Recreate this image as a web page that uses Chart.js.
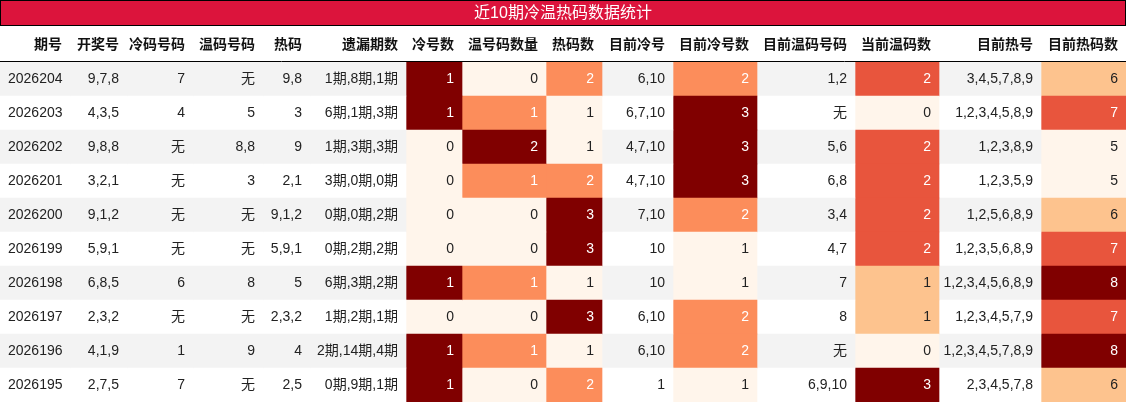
<!DOCTYPE html>
<html><head><meta charset="utf-8">
<script src="https://cdn.jsdelivr.net/npm/chart.js@4"></script>
<style>html,body{margin:0;padding:0;background:#fff}#wrap{width:1126px;height:403px}</style>
</head><body><div id="wrap"><canvas id="c"></canvas></div>
<script>
// data
const title = '近10期冷温热码数据统计';
const headers = ['期号','开奖号','冷码号码','温码号码','热码','遗漏期数','冷号数','温号码数量','热码数','目前冷号','目前冷号数','目前温码号码','当前温码数','目前热号','目前热码数'];
const issues = ['2026204','2026203','2026202','2026201','2026200','2026199','2026198','2026197','2026196','2026195'];
const draws = ['9,7,8','4,3,5','9,8,8','3,2,1','9,1,2','5,9,1','6,8,5','2,3,2','4,1,9','2,7,5'];
const coldNums = ['7','4','无','无','无','无','6','无','1','7'];
const warmNums = ['无','5','8,8','3','无','无','8','无','9','无'];
const hotNums = ['9,8','3','9','2,1','9,1,2','5,9,1','5','2,3,2','4','2,5'];
const missing = ['1期,8期,1期','6期,1期,3期','1期,3期,3期','3期,0期,0期','0期,0期,2期','0期,2期,2期','6期,3期,2期','1期,2期,1期','2期,14期,4期','0期,9期,1期'];
const coldCount = [1,1,0,0,0,0,1,0,1,1];
const warmCount = [0,1,2,1,0,0,1,0,1,0];
const hotCount = [2,1,1,2,3,3,1,3,1,2];
const curCold = ['6,10','6,7,10','4,7,10','4,7,10','7,10','10','10','6,10','6,10','1'];
const curColdCount = [2,3,3,3,2,1,1,2,2,1];
const curWarm = ['1,2','无','5,6','6,8','3,4','4,7','7','8','无','6,9,10'];
const curWarmCount = [2,0,2,2,2,2,1,1,0,3];
const curHot = ['3,4,5,7,8,9','1,2,3,4,5,8,9','1,2,3,8,9','1,2,3,5,9','1,2,5,6,8,9','1,2,3,5,6,8,9','1,2,3,4,5,6,8,9','1,2,3,4,5,7,9','1,2,3,4,5,7,8,9','2,3,4,5,7,8'];
const curHotCount = [6,7,5,5,6,7,8,7,8,6];

const columns = [issues,draws,coldNums,warmNums,hotNums,missing,coldCount,warmCount,hotCount,curCold,curColdCount,curWarm,curWarmCount,curHot,curHotCount];
const colEdges = [0,70,127,193,263,310,406,462,546,602,673,757,855,939,1041,1126];

const ramp = ['#fff5eb','#fdc38e','#fc8d5b','#e8553d','#800000'];
function cellColor(vals, v) {
  const mn = Math.min(...vals), mx = Math.max(...vals);
  const t = mx === mn ? 0 : (v - mn) / (mx - mn);
  return ramp[Math.round(t * 4)];
}
const isNum = col => typeof col[0] === 'number';

const datasets = columns.map((col, ci) => ({
  data: col.map(() => [colEdges[ci], colEdges[ci + 1]]),
  backgroundColor: col.map((v, ri) => isNum(col) ? cellColor(col, v) : (ri % 2 === 0 ? '#f3f3f3' : '#ffffff')),
  borderWidth: 0, grouped: false, barPercentage: 1, categoryPercentage: 1
}));

const tablePlugin = {
  id: 'tableText',
  afterDatasetsDraw(chart) {
    const ctx = chart.ctx, xs = chart.scales.x, ys = chart.scales.y;
    ctx.save();
    // title bar
    ctx.fillStyle = '#dc143c';
    ctx.fillRect(1, 1, 1124, 24);
    ctx.strokeStyle = '#000'; ctx.lineWidth = 1;
    ctx.strokeRect(0.5, 0.5, 1125, 25);
    ctx.fillStyle = '#fff'; ctx.font = '16px "Liberation Sans", "Noto Sans CJK SC"';
    ctx.textAlign = 'center'; ctx.textBaseline = 'middle';
    ctx.fillText(title, 563, 14);
    // headers
    ctx.fillStyle = '#111'; ctx.font = 'bold 14px "Liberation Sans", "Noto Sans CJK SC"';
    ctx.textAlign = 'right';
    headers.forEach((h, ci) => ctx.fillText(h, xs.getPixelForValue(colEdges[ci + 1]) - 8, 45));
    ctx.beginPath(); ctx.moveTo(0, 61.5); ctx.lineTo(1126, 61.5); ctx.stroke();
    // cells
    ctx.font = '14px "Liberation Sans", "Noto Sans CJK SC"';
    columns.forEach((col, ci) => {
      col.forEach((v, ri) => {
        const y = ys.getPixelForValue(ri);
        let color = '#222';
        if (isNum(col)) {
          const c = cellColor(col, v);
          if (ramp.indexOf(c) >= 2) color = '#fff';
        }
        ctx.fillStyle = color;
        if (ci === 0) { ctx.textAlign = 'left'; ctx.fillText(String(v), 8, y); ctx.textAlign = 'right'; }
        else ctx.fillText(String(v), xs.getPixelForValue(colEdges[ci + 1]) - 8, y);
      });
    });
    ctx.restore();
  }
};

new Chart(document.getElementById('c'), {
  type: 'bar',
  data: { labels: issues.map((_, i) => i), datasets },
  options: {
    indexAxis: 'y', responsive: true, maintainAspectRatio: false, animation: false,
    layout: { padding: { top: 62, bottom: 1, left: 0, right: 0 } },
    scales: {
      x: { type: 'linear', min: 0, max: 1126, display: false },
      y: { type: 'category', display: false, offset: true }
    },
    plugins: { legend: { display: false }, tooltip: { enabled: false } }
  },
  plugins: [tablePlugin]
});
</script></body></html>
